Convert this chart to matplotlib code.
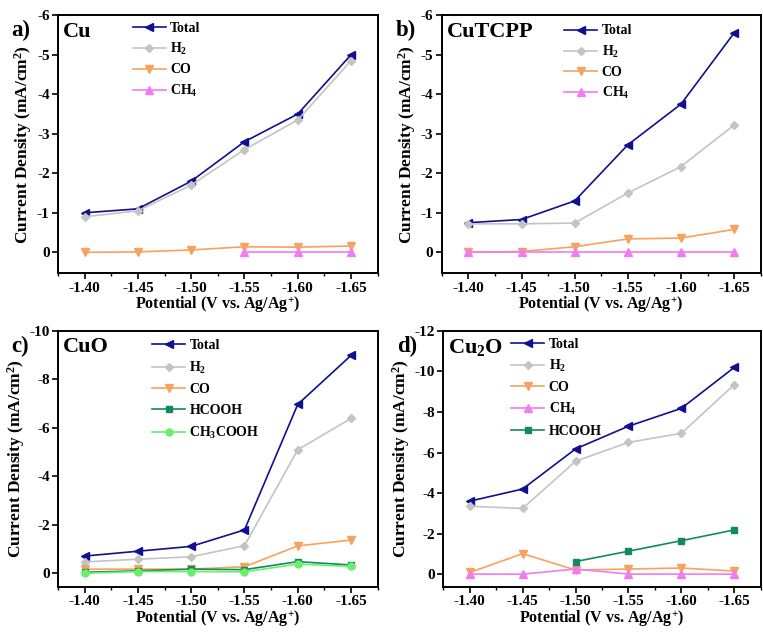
import numpy as np
import matplotlib.pyplot as plt
from matplotlib.ticker import MultipleLocator

plt.rcParams['font.family'] = ['Liberation Serif', 'DejaVu Serif']
plt.rcParams['font.weight'] = 'bold'
plt.rcParams['mathtext.fontset'] = 'custom'
plt.rcParams['mathtext.rm'] = 'Liberation Serif:bold'
plt.rcParams['mathtext.bf'] = 'Liberation Serif:bold'
plt.rcParams['mathtext.it'] = 'Liberation Serif:bold'
plt.rcParams['mathtext.default'] = 'bf'

potential = [-1.40, -1.45, -1.50, -1.55, -1.60, -1.65]

# Cu
cu_total = [-1.0, -1.1, -1.8, -2.8, -3.5, -5.0]
cu_h2 = [-0.9, -1.05, -1.7, -2.6, -3.35, -4.85]
cu_co = [0.0, -0.01, -0.06, -0.14, -0.13, -0.16]
cu_ch4 = [-0.01, -0.01, -0.01]          # only -1.55 .. -1.65

# CuTCPP
tcpp_total = [-0.75, -0.83, -1.3, -2.72, -3.75, -5.55]
tcpp_h2 = [-0.72, -0.72, -0.74, -1.5, -2.17, -3.22]
tcpp_co = [0.0, -0.02, -0.14, -0.34, -0.36, -0.58]
tcpp_ch4 = [-0.01, -0.01, -0.01, -0.01, -0.01, -0.01]

# CuO
cuo_total = [-0.71, -0.91, -1.11, -1.79, -6.97, -8.99]
cuo_h2 = [-0.47, -0.58, -0.68, -1.14, -5.1, -6.39]
cuo_co = [-0.17, -0.17, -0.17, -0.27, -1.13, -1.37]
cuo_hcooh = [-0.04, -0.1, -0.17, -0.15, -0.48, -0.34]
cuo_ch3cooh = [0.0, -0.07, -0.07, -0.06, -0.38, -0.28]

# Cu2O
cu2o_total = [-3.6, -4.2, -6.18, -7.3, -8.18, -10.2]
cu2o_h2 = [-3.35, -3.24, -5.57, -6.5, -6.95, -9.35]
cu2o_co = [-0.08, -1.01, -0.2, -0.25, -0.3, -0.15]
cu2o_ch4 = [0.0, 0.0, -0.25, 0.0, 0.0, 0.0]
cu2o_hcooh = [-0.62, -1.13, -1.65, -2.18]  # only -1.50 .. -1.65

styles = {
    'Total': dict(color='#101090', marker='<'),
    'H$_2$': dict(color='#c4c4c4', marker='D', ms=4.5),
    'CO': dict(color='#f7a25e', marker='v'),
    'CH$_4$': dict(color='#f07cf0', marker='^'),
    'HCOOH': dict(color='#128a5e', marker='s', ms=5),
    'CH$_3$COOH': dict(color='#6aef6a', marker='o', ms=5),
}

panels = [
    dict(pos=[0.076, 0.569, 0.419, 0.407], tag='a)', name='Cu', ylim=(0.53, -6), step=1,
         leg=(0.225, 0.985), sp=0.45,
         series=[('Total', potential, cu_total), ('H$_2$', potential, cu_h2),
                 ('CO', potential, cu_co), ('CH$_4$', potential[3:], cu_ch4)]),
    dict(pos=[0.579, 0.569, 0.418, 0.407], tag='b)', name='CuTCPP', ylim=(0.53, -6), step=1,
         leg=(0.375, 0.975), sp=0.45,
         series=[('Total', potential, tcpp_total), ('H$_2$', potential, tcpp_h2),
                 ('CO', potential, tcpp_co), ('CH$_4$', potential, tcpp_ch4)]),
    dict(pos=[0.076, 0.074, 0.419, 0.404], tag='c)', name='CuO', ylim=(0.57, -10), step=2,
         leg=(0.285, 0.98), sp=0.55,
         series=[('Total', potential, cuo_total), ('H$_2$', potential, cuo_h2),
                 ('CO', potential, cuo_co), ('HCOOH', potential, cuo_hcooh),
                 ('CH$_3$COOH', potential, cuo_ch3cooh)]),
    dict(pos=[0.581, 0.074, 0.416, 0.404], tag='d)', name='Cu$_2$O', ylim=(0.64, -12), step=2,
         leg=(0.205, 0.985), sp=0.52,
         series=[('Total', potential, cu2o_total), ('H$_2$', potential, cu2o_h2),
                 ('CO', potential, cu2o_co), ('CH$_4$', potential, cu2o_ch4),
                 ('HCOOH', potential[2:], cu2o_hcooh)]),
]

fig = plt.figure(figsize=(7.63, 6.34), dpi=100)

for p in panels:
    ax = fig.add_axes(p['pos'])
    for label, xs, ys in p['series']:
        st = dict(ms=5.5, lw=1.2)
        st.update(styles[label])
        ax.plot(xs, ys, label=label, **st)

    ax.set_xlim(-1.375, -1.675)
    ax.set_ylim(*p['ylim'])
    ax.set_xticks(potential)
    ax.set_xticklabels(['%.2f' % v for v in potential])
    ax.xaxis.set_minor_locator(MultipleLocator(0.025))
    ax.yaxis.set_major_locator(MultipleLocator(p['step']))
    ax.yaxis.set_major_formatter(plt.FuncFormatter(lambda v, _: '%d' % v if v != 0 else '0'))
    ax.tick_params(axis='both', which='major', direction='out', length=4, width=1.2,
                   labelsize=11, top=False, right=False, pad=2)
    ax.tick_params(axis='x', which='minor', direction='out', length=2.5, width=1.0,
                   top=False)
    for s in ax.spines.values():
        s.set_linewidth(1.4)

    ax.set_xlabel('Potential (V vs. Ag/Ag$^{+}$)', fontsize=11.5, fontweight='bold', labelpad=0)
    ax.set_ylabel('Current Density (mA/cm$^2$)', fontsize=12.5, fontweight='bold', labelpad=2)
    ax.text(0.015, 0.975, p['name'], transform=ax.transAxes, fontsize=16,
            fontweight='bold', va='top', ha='left')
    ax.text(-0.145, 0.94, p['tag'], transform=ax.transAxes, fontsize=16.5,
            fontweight='bold', va='center', ha='left')

    ax.legend(loc='upper left', bbox_to_anchor=p['leg'], frameon=False,
              fontsize=10, handlelength=2.4, handletextpad=0.3, labelspacing=p['sp'],
              borderaxespad=0, borderpad=0.2)

fig.savefig('out.png', dpi=100)
